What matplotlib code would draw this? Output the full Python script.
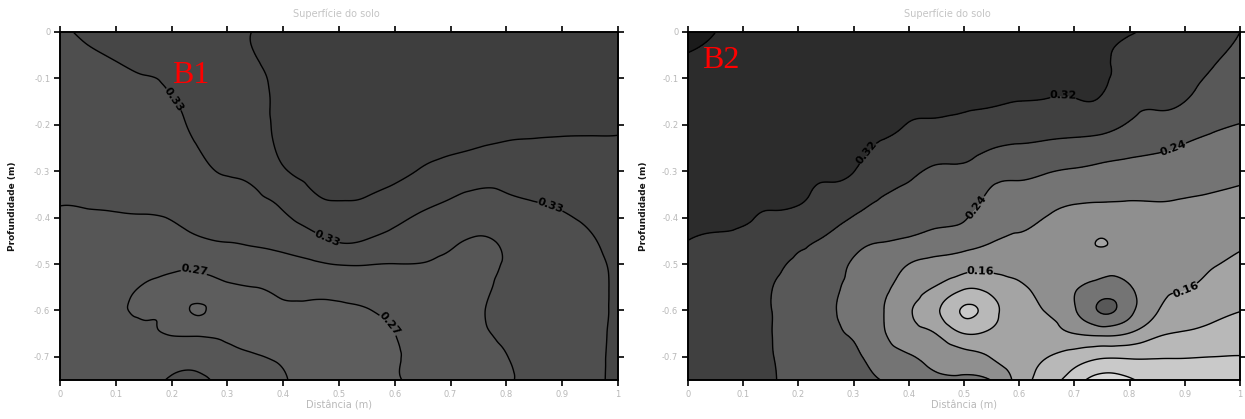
import numpy as np
import matplotlib
matplotlib.use("Agg")
import matplotlib.pyplot as plt
import matplotlib.tri as mtri

plt.rcParams['axes.unicode_minus'] = False
plt.rcParams['font.family'] = ['DejaVu Sans']

# ---- data -------------------------------------------------------------
distance = [0.0, 0.05, 0.1, 0.15, 0.2, 0.25, 0.3, 0.35, 0.4, 0.45, 0.5,
            0.55, 0.6, 0.65, 0.7, 0.75, 0.8, 0.85, 0.9, 0.95, 1.0]
depth = [0.0, -0.075, -0.15, -0.225, -0.3, -0.375, -0.45, -0.5, -0.55,
         -0.6, -0.65, -0.7, -0.75]

# B1 moisture, one list per distance column (top -> bottom)
b1_columns = [
    [0.328, 0.322, 0.317, 0.311, 0.305, 0.300, 0.294, 0.2905, 0.2868, 0.283, 0.2837, 0.2843, 0.285],
    [0.332, 0.326, 0.3195, 0.313, 0.3068, 0.3004, 0.295, 0.288, 0.283, 0.2793, 0.281, 0.2824, 0.284],
    [0.335, 0.3288, 0.322, 0.315, 0.308, 0.3014, 0.2918, 0.285, 0.278, 0.275, 0.2777, 0.2804, 0.283],
    [0.337, 0.3315, 0.3248, 0.3173, 0.3099, 0.3025, 0.289, 0.2786, 0.2685, 0.2665, 0.2745, 0.2805, 0.287],
    [0.342, 0.3353, 0.3284, 0.3205, 0.3126, 0.3047, 0.2905, 0.2747, 0.2655, 0.259, 0.2685, 0.286, 0.304],
    [0.352, 0.347, 0.342, 0.334, 0.3237, 0.3114, 0.297, 0.2745, 0.262, 0.237, 0.266, 0.2875, 0.307],
    [0.357, 0.352, 0.346, 0.339, 0.3318, 0.3175, 0.301, 0.282, 0.2677, 0.261, 0.2673, 0.276, 0.288],
    [0.361, 0.357, 0.351, 0.347, 0.3375, 0.3235, 0.304, 0.2876, 0.270, 0.2643, 0.2652, 0.271, 0.281],
    [0.372, 0.370, 0.368, 0.367, 0.357, 0.333, 0.308, 0.2918, 0.2755, 0.266, 0.2628, 0.267, 0.272],
    [0.378, 0.377, 0.375, 0.372, 0.367, 0.352, 0.3185, 0.2961, 0.2766, 0.266, 0.260, 0.2606, 0.262],
    [0.382, 0.381, 0.379, 0.376, 0.370, 0.358, 0.3318, 0.3012, 0.2779, 0.266, 0.260, 0.2605, 0.261],
    [0.384, 0.383, 0.381, 0.378, 0.372, 0.355, 0.3284, 0.3011, 0.2833, 0.2688, 0.264, 0.2639, 0.265],
    [0.385, 0.384, 0.382, 0.378, 0.368, 0.344, 0.319, 0.2998, 0.2897, 0.2793, 0.2697, 0.267, 0.268],
    [0.386, 0.385, 0.382, 0.375, 0.357, 0.333, 0.312, 0.2995, 0.2937, 0.288, 0.2847, 0.2813, 0.278],
    [0.387, 0.386, 0.383, 0.372, 0.3487, 0.3252, 0.3042, 0.296, 0.293, 0.290, 0.288, 0.287, 0.285],
    [0.388, 0.387, 0.383, 0.368, 0.342, 0.318, 0.298, 0.2965, 0.296, 0.297, 0.2955, 0.294, 0.292],
    [0.388, 0.387, 0.382, 0.363, 0.341, 0.323, 0.305, 0.302, 0.305, 0.309, 0.305, 0.2995, 0.297],
    [0.388, 0.387, 0.380, 0.361, 0.345, 0.328, 0.318, 0.315, 0.315, 0.317, 0.314, 0.311, 0.309],
    [0.388, 0.387, 0.379, 0.360, 0.3456, 0.3318, 0.322, 0.321, 0.322, 0.322, 0.320, 0.318, 0.316],
    [0.388, 0.387, 0.378, 0.3597, 0.3486, 0.338, 0.328, 0.3262, 0.3265, 0.3265, 0.326, 0.3255, 0.325],
    [0.388, 0.387, 0.378, 0.3595, 0.352, 0.344, 0.336, 0.3325, 0.3318, 0.3318, 0.3325, 0.3332, 0.334],
]

# B2 moisture, one list per distance column (top -> bottom)
b2_columns = [
    [0.370, 0.3549, 0.3479, 0.3409, 0.334, 0.327, 0.3199, 0.316, 0.312, 0.308, 0.305, 0.303, 0.301],
    [0.360, 0.353, 0.346, 0.339, 0.332, 0.325, 0.318, 0.313, 0.308, 0.303, 0.299, 0.297, 0.295],
    [0.355, 0.349, 0.343, 0.3365, 0.3305, 0.3235, 0.3165, 0.310, 0.303, 0.297, 0.292, 0.290, 0.289],
    [0.350, 0.345, 0.3395, 0.334, 0.328, 0.3215, 0.305, 0.291, 0.2815, 0.2805, 0.2805, 0.281, 0.282],
    [0.346, 0.3408, 0.3355, 0.3303, 0.325, 0.3197, 0.2882, 0.275, 0.270, 0.268, 0.268, 0.268, 0.269],
    [0.342, 0.3365, 0.331, 0.3278, 0.3235, 0.3062, 0.275, 0.263, 0.252, 0.247, 0.248, 0.252, 0.257],
    [0.339, 0.335, 0.330, 0.3256, 0.3205, 0.2896, 0.252, 0.237, 0.232, 0.231, 0.237, 0.2455, 0.252],
    [0.337, 0.333, 0.328, 0.3225, 0.2993, 0.2733, 0.2415, 0.226, 0.213, 0.2045, 0.208, 0.222, 0.2395],
    [0.335, 0.331, 0.326, 0.3123, 0.288, 0.263, 0.235, 0.200, 0.180, 0.164, 0.175, 0.203, 0.2225],
    [0.333, 0.329, 0.326, 0.3065, 0.2736, 0.2545, 0.2259, 0.1891, 0.157, 0.127, 0.159, 0.188, 0.208],
    [0.331, 0.328, 0.3245, 0.303, 0.272, 0.252, 0.2182, 0.1778, 0.1267, 0.0755, 0.120, 0.1743, 0.205],
    [0.330, 0.326, 0.323, 0.2933, 0.2546, 0.225, 0.202, 0.1727, 0.136, 0.105, 0.1288, 0.1582, 0.199],
    [0.329, 0.325, 0.3198, 0.2888, 0.2487, 0.2195, 0.1929, 0.1725, 0.155, 0.142, 0.138, 0.137, 0.143],
    [0.328, 0.3245, 0.3185, 0.285, 0.2424, 0.2084, 0.190, 0.181, 0.173, 0.162, 0.143, 0.121, 0.100],
    [0.328, 0.325, 0.318, 0.2815, 0.2362, 0.1985, 0.184, 0.187, 0.196, 0.196, 0.160, 0.102, 0.060],
    [0.326, 0.3245, 0.316, 0.2765, 0.231, 0.195, 0.1585, 0.185, 0.215, 0.2445, 0.170, 0.085, 0.020],
    [0.322, 0.3101, 0.2916, 0.2649, 0.2265, 0.196, 0.185, 0.187, 0.203, 0.212, 0.158, 0.085, 0.035],
    [0.315, 0.306, 0.2858, 0.2575, 0.2232, 0.197, 0.1853, 0.1776, 0.170, 0.162, 0.1273, 0.0827, 0.055],
    [0.308, 0.296, 0.280, 0.2467, 0.2182, 0.1953, 0.181, 0.1716, 0.162, 0.1414, 0.1166, 0.082, 0.060],
    [0.300, 0.2805, 0.2597, 0.2375, 0.2135, 0.1922, 0.1746, 0.1628, 0.1471, 0.1302, 0.1086, 0.080, 0.062],
    [0.280, 0.265, 0.250, 0.2323, 0.209, 0.1875, 0.1667, 0.1519, 0.1365, 0.121, 0.100, 0.079, 0.065],
]

b1_fill_levels = [0.20, 0.24, 0.27, 0.30, 0.33, 0.36, 0.40]
b1_plain_levels = [0.24, 0.30, 0.36]
b1_label_levels = [0.27, 0.33]
b2_fill_levels = [-0.05, 0.04, 0.08, 0.12, 0.16, 0.20, 0.24, 0.28, 0.32, 0.36, 0.40]
b2_plain_levels = [0.04, 0.08, 0.12, 0.20, 0.28, 0.36]
b2_label_levels = [0.16, 0.24, 0.32]

x_ticks = [0, 0.1, 0.2, 0.3, 0.4, 0.5, 0.6, 0.7, 0.8, 0.9, 1.0]
x_tick_labels = ['0', '0.1', '0.2', '0.3', '0.4', '0.5', '0.6', '0.7', '0.8', '0.9', '1']
y_ticks = [0, -0.1, -0.2, -0.3, -0.4, -0.5, -0.6, -0.7]
y_tick_labels = ['0', '-0.1', '-0.2', '-0.3', '-0.4', '-0.5', '-0.6', '-0.7']

# ---- styles / layout --------------------------------------------------
b1_colors = ['#636363', '#5d5d5d', '#565656', '#4e4e4e', '#464646', '#3e3e3e']
b2_colors = ['#d9d9d9', '#c9c9c9', '#b8b8b8', '#a4a4a4', '#8f8f8f',
             '#747474', '#585858', '#404040', '#2c2c2c', '#1b1b1b']
b1_label_pos = [(0.21, -0.14), (0.48, -0.44), (0.88, -0.37), (0.24, -0.515), (0.59, -0.63)]
b2_label_pos = [(0.335, -0.27), (0.68, -0.14), (0.505, -0.36), (0.88, -0.25),
                (0.53, -0.517), (0.90, -0.55)]

fig = plt.figure(figsize=(12.45, 4.19), dpi=100)
ax1 = fig.add_axes([60 / 1245, 1 - 380 / 419, 558 / 1245, 348 / 419])
ax2 = fig.add_axes([688 / 1245, 1 - 380 / 419, 552 / 1245, 348 / 419])

faint = '#b8b8b8'


def draw(ax, cols, fill_levels, colors, plain_levels, label_levels, label_pos,
         tag, tag_xy, title_x, ylab_x):
    X, Y = np.meshgrid(np.array(distance), np.array(depth))
    Z = np.array(cols).T
    tri = mtri.Triangulation(X.ravel(), Y.ravel())
    interp = mtri.CubicTriInterpolator(tri, Z.ravel(), kind='min_E')
    refiner = mtri.UniformTriRefiner(tri)
    tri_f, z_f = refiner.refine_field(Z.ravel(), triinterpolator=interp, subdiv=4)
    ax.tricontourf(tri_f, z_f, levels=fill_levels, colors=colors)
    ax.tricontour(tri_f, z_f, levels=plain_levels, colors='black', linewidths=1.0)
    cs = ax.tricontour(tri_f, z_f, levels=label_levels, colors='black', linewidths=1.0)
    texts = ax.clabel(cs, manual=label_pos, fmt='%.2f', fontsize=8,
                      inline=True, inline_spacing=1)
    for t in (texts or []):
        t.set_fontweight('bold')
    ax.set_xlim(0, 1)
    ax.set_ylim(-0.75, 0)
    ax.set_xticks(x_ticks)
    ax.set_xticklabels(x_tick_labels)
    ax.set_yticks(y_ticks)
    ax.set_yticklabels(y_tick_labels)
    ax.tick_params(direction='out', top=True, right=True, length=4, width=1.2,
                   labelsize=6, labelcolor=faint, pad=3)
    for s in ax.spines.values():
        s.set_linewidth(1.4)
    ax.text(tag_xy[0], tag_xy[1], tag, color='red', fontsize=23,
            family='Liberation Serif', va='baseline', ha='left')
    ax.text(title_x, 1.052, 'Superfície do solo', transform=ax.transAxes,
            ha='center', va='center', fontsize=7, color='#c4c4c4')
    ax.set_xlabel('Distância (m)', fontsize=7, color=faint)
    ax.xaxis.set_label_coords(0.5, -0.058)
    ax.set_ylabel('Profundidade (m)', fontsize=6.5, color='#151515', fontweight='bold')
    ax.yaxis.set_label_coords(ylab_x, 0.5)


draw(ax1, b1_columns, b1_fill_levels, b1_colors, b1_plain_levels, b1_label_levels,
     b1_label_pos, 'B1', (0.20, -0.11), 0.495, -0.077)
draw(ax2, b2_columns, b2_fill_levels, b2_colors, b2_plain_levels, b2_label_levels,
     b2_label_pos, 'B2', (0.025, -0.078), 0.47, -0.072)

fig.savefig('out.png', dpi=100)
